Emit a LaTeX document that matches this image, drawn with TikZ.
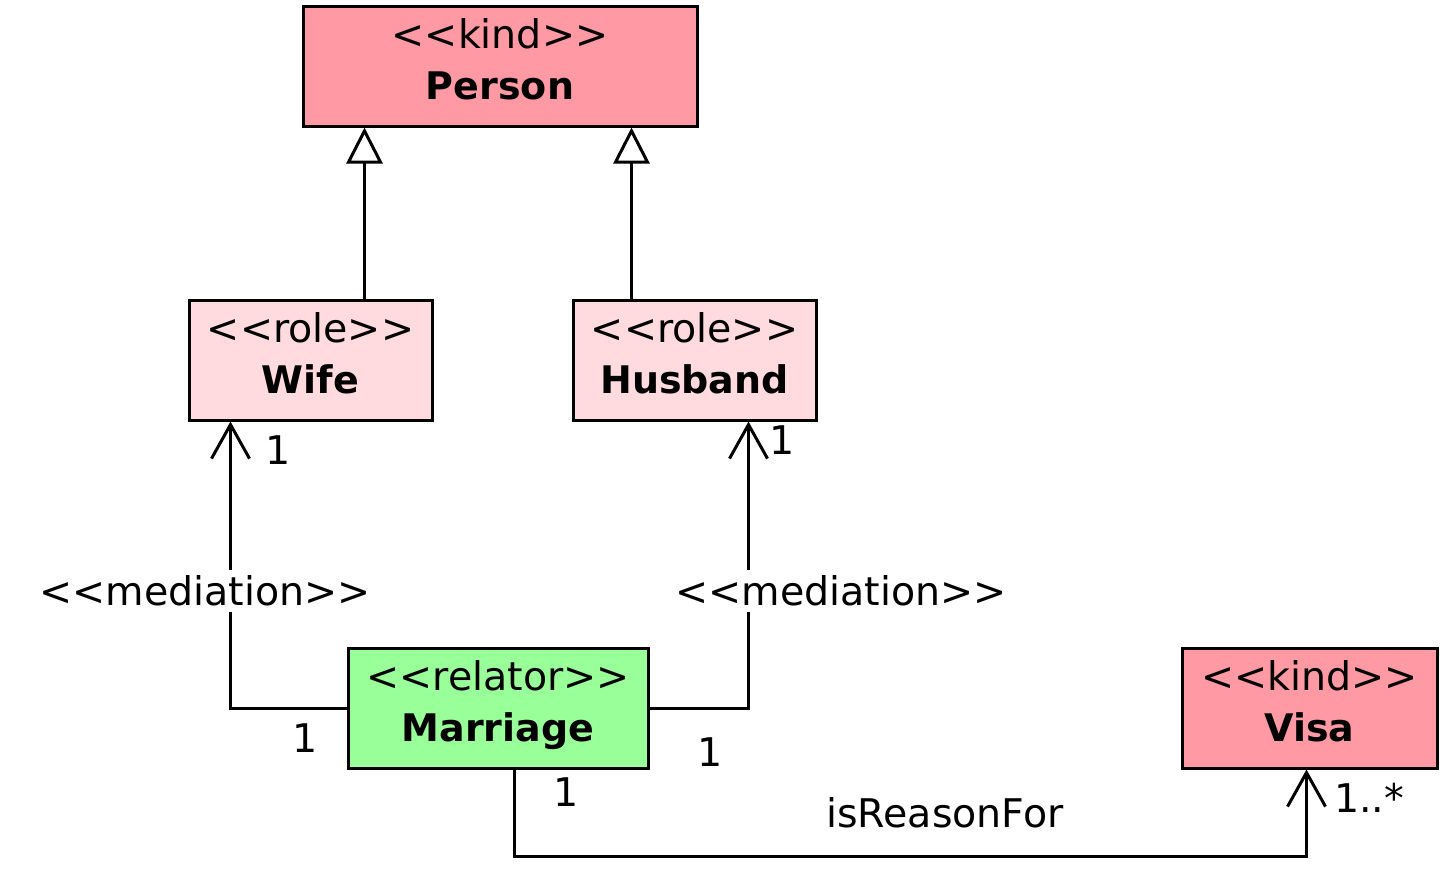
\documentclass[tikz,border=0pt]{standalone}
\usepackage{fontspec}
\setmainfont{DejaVu Sans}
\usetikzlibrary{arrows.meta}
\definecolor{kindc}{RGB}{255,153,163}
\definecolor{rolec}{RGB}{255,218,222}
\definecolor{relc}{RGB}{153,255,153}
\newcommand\stereo[1]{<\kern0pt<#1>\kern0pt>}
\newcommand\cname[1]{{\fontsize{38}{51}\selectfont\bfseries #1}}
\tikzset{
  cls/.style={draw=black, line width=3pt, align=center, inner sep=0pt,
    text height=81pt, text depth=15pt,
    font=\fontsize{39.5}{51}\selectfont},
  conn/.style={line width=3pt, line join=miter},
  gen/.style={conn, -{Triangle[open, length=36pt, width=36pt, line width=3pt]}},
  nav/.style={conn, -{Straight Barb[length=34pt, width=38pt, line width=3pt]}},
  lbl/.style={font=\fontsize{39.5}{42}\selectfont, inner sep=2pt},
  medlbl/.style={lbl, fill=white, inner sep=6pt},
}
\begin{document}
\begin{tikzpicture}[x=1pt, y=-1pt]
\useasboundingbox (0,0) rectangle (1449,873);
\node[cls, fill=kindc, minimum width=394pt, minimum height=120pt] (person) at (500,66) {\stereo{kind}\\\cname{Person}};
\node[cls, fill=rolec, minimum width=243pt, minimum height=120pt] (wife) at (310.5,360) {\stereo{role}\\\cname{Wife}};
\node[cls, fill=rolec, minimum width=243pt, minimum height=120pt] (hus) at (694.5,360) {\stereo{role}\\\cname{Husband}};
\node[cls, fill=relc, minimum width=300pt, minimum height=120pt] (mar) at (498,708) {\stereo{relator}\\\cname{Marriage}};
\node[cls, fill=kindc, minimum width=255pt, minimum height=120pt] (visa) at (1309.5,708) {\stereo{kind}\\\cname{Visa}};
% generalizations
\draw[gen] ([xshift=177pt]wife.north west) -- ([xshift=63pt]person.south west);
\draw[gen] ([xshift=60pt]hus.north west) -- ([xshift=330pt]person.south west);
% mediations
\draw[nav] (mar.west) -| ([xshift=43pt]wife.south west);
\draw[nav] (mar.east) -| ([xshift=177pt]hus.south west);
\draw[nav] ([xshift=168pt]mar.south west) -- ++(0,87) -| ([xshift=126pt]visa.south west);
% labels
\node[medlbl] (m1) at (205,591) {\stereo{mediation}};
\node[medlbl] (m2) at (841,591) {\stereo{mediation}};
\node[lbl] (w1) at (278,450) {1};
\node[lbl] (h1) at (782,440) {1};
\node[lbl] (mw1) at (305,738) {1};
\node[lbl] (mh1) at (710,752) {1};
\node[lbl] (mv1) at (566,792) {1};
\node[lbl] (v1) at (1369,798) {1..*};
\node[lbl] (isr) at (945,813) {isReasonFor};
\end{tikzpicture}
\end{document}
